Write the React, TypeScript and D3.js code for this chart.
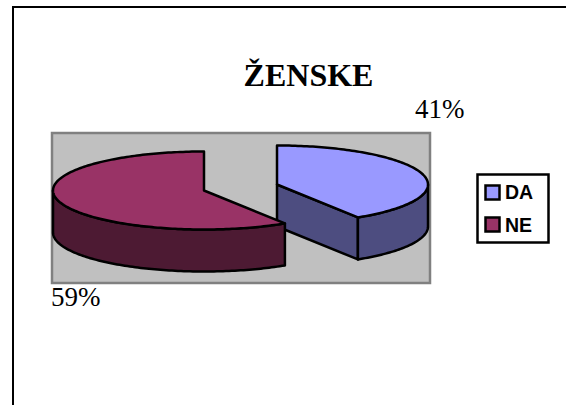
import React from "react";
import * as d3 from "d3";

const categories = ["DA", "NE"];
const values = [41, 59];
const labels = ["41%", "59%"];
const topColors = ["#9999FF", "#993366"];
const wallColors = ["#4D4D80", "#4D1A33"];

const W = 566, H = 405;
const rx = 151, ry = 39, depth = 42;
const centers = [{ x: 277, y: 184.5 }, { x: 204, y: 190.5 }];

const slices = d3.pie<number>().sort(null)(values);
const line = d3.line<[number, number]>().curve(d3.curveLinear);

function rim(c: { x: number; y: number }, a0: number, a1: number, dy = 0): [number, number][] {
  const n = Math.max(2, Math.ceil(Math.abs(a1 - a0) / 0.02));
  return d3.range(n + 1).map((i) => {
    const a = a0 + ((a1 - a0) * i) / n;
    return [c.x + rx * Math.sin(a), c.y - ry * Math.cos(a) + dy] as [number, number];
  });
}

export default function App() {
  const sw = 2.5;
  const serif = "'Liberation Serif', 'Times New Roman', serif";
  const sans = "'Liberation Sans', Arial, sans-serif";
  return (
    <svg width={W} height={H} style={{ position: "absolute", left: 0, top: 0 }}>
      <rect width={W} height={H} fill="#fff" />
      <path d="M13 405V7H566" fill="none" stroke="#000" strokeWidth={2} />
      <text x={308.5} y={86} textAnchor="middle" fontFamily={serif} fontWeight="bold" fontSize={32}>ŽENSKE</text>
      <rect x={52} y={133} width={378} height={150} fill="#C0C0C0" stroke="#808080" strokeWidth={2.5} />
      {slices.map((s, i) => {
        const c = centers[i];
        const a0 = s.startAngle, a1 = s.endAngle;
        const w0 = Math.max(a0, Math.PI / 2), w1 = Math.min(a1, (3 * Math.PI) / 2);
        const upper = rim(c, w0, w1);
        const lower = rim(c, w1, w0, depth);
        const top = [[c.x, c.y] as [number, number], ...rim(c, a0, a1)];
        const edge = rim(c, a1, a1)[0];
        const face: [number, number][] = [[c.x, c.y], edge, [edge[0], edge[1] + depth], [c.x, c.y + depth]];
        return (
          <g key={categories[i]} stroke="#000" strokeWidth={sw} strokeLinejoin="round">
            {i === 0 && <path d={line(face)! + "Z"} fill={wallColors[i]} />}
            <path d={line([...upper, ...lower])! + "Z"} fill={wallColors[i]} />
            <path d={line(top)! + "Z"} fill={topColors[i]} />
          </g>
        );
      })}
      <text x={415} y={118} fontFamily={serif} fontSize={27}>{labels[0]}</text>
      <text x={51} y={306} fontFamily={serif} fontSize={27}>{labels[1]}</text>
      <rect x={477.5} y={174.5} width={71} height={68} fill="#fff" stroke="#000" strokeWidth={2.5} />
      {categories.map((d, i) => (
        <g key={d}>
          <rect x={485.5} y={185.5 + i * 32} width={14} height={14} fill={topColors[i]} stroke="#000" strokeWidth={2.5} />
          <text x={505} y={199 + i * 32.5} fontFamily={sans} fontWeight="bold" fontSize={19.5}>{d}</text>
        </g>
      ))}
    </svg>
  );
}
